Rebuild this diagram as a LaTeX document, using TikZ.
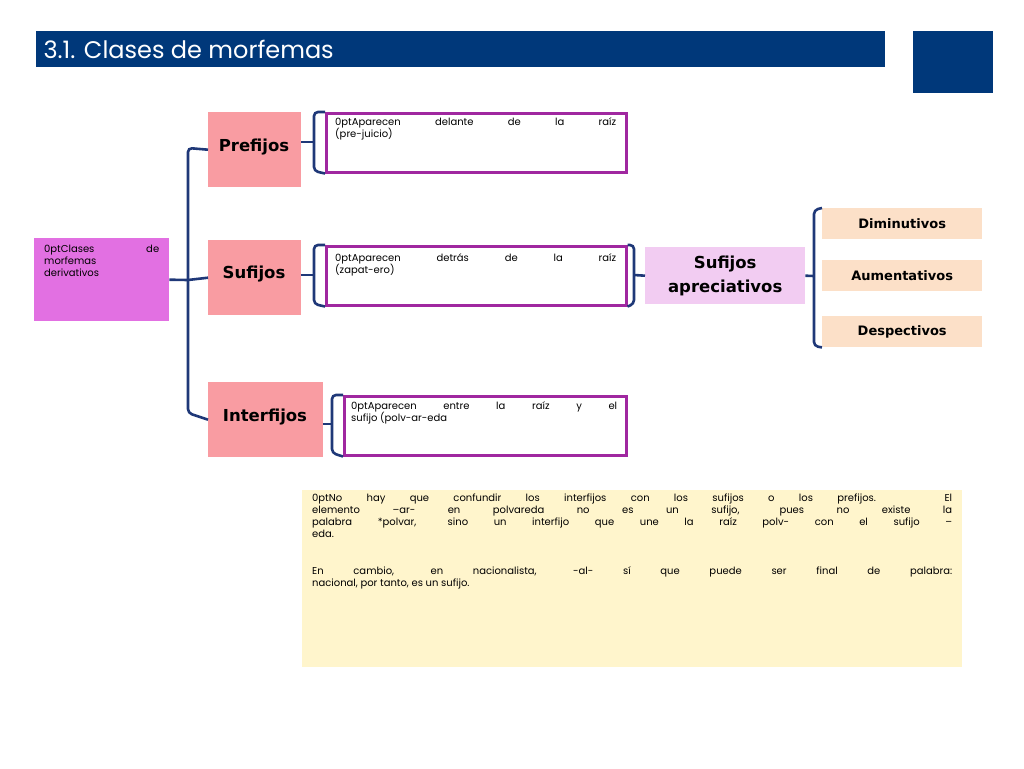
\documentclass[tikz,border=0pt]{standalone}
\usepackage{fontspec}
\setmainfont{Poppins}
\newfontfamily\labelfont{DejaVu Sans}
\usetikzlibrary{positioning}
\definecolor{navy}{RGB}{0,56,122}
\definecolor{bracecol}{RGB}{31,56,120}
\definecolor{rootpink}{RGB}{226,112,226}
\definecolor{salmon}{RGB}{249,156,162}
\definecolor{lilac}{RGB}{242,204,242}
\definecolor{peach}{RGB}{252,224,200}
\definecolor{cream}{RGB}{255,245,204}
\definecolor{purp}{RGB}{160,40,160}
\begin{document}
\begin{tikzpicture}[x=1pt,y=-1pt,
typebox/.style={fill=salmon, minimum height=75pt, anchor=north west, inner sep=0pt},
descbox/.style={draw=purp, line width=2.5pt, anchor=north west, minimum height=59pt, inner sep=0pt},
kindbox/.style={fill=peach, minimum width=160pt, minimum height=31pt, anchor=north west, inner sep=0pt, font=\labelfont\bfseries\fontsize{13}{15}\selectfont},
desctext/.style={anchor=north west, align=justify, inner sep=0pt, font=\hyphenpenalty=10000\fontsize{18}{25}\selectfont},
label/.style={font=\labelfont\bfseries\fontsize{16.5}{19}\selectfont},
brace/.style={draw=bracecol, line width=2.6pt, rounded corners=4pt}]
\useasboundingbox (0,0) rectangle (1024,768);
% Title
\node[fill=navy, minimum width=849pt, minimum height=36pt, anchor=north west, inner sep=0pt] (title) at (36,31) {};
\node[text=white, anchor=west, font=\fontsize{24}{26}\selectfont] (titletext) at (40,49) {3.1. Clases de morfemas};
\node[fill=navy, minimum width=80pt, minimum height=62pt, anchor=north west, inner sep=0pt] (corner) at (913,31) {};
% Nodes
\node[fill=rootpink, minimum width=135pt, minimum height=83pt, anchor=north west, inner sep=0pt] (root) at (34,238) {};
\node[desctext, text width=115pt] (roottext) at (44,245) {Clases de\linebreak morfemas\\derivativos};
\node[typebox, minimum width=93pt] (pre) at (208,112) {};
\node[label] (pretext) at (254,147) {Prefijos};
\node[typebox, minimum width=93pt] (suf) at (208,240) {};
\node[label] (suftext) at (254,274) {Sufijos};
\node[typebox, minimum width=115pt] (inter) at (208,382) {};
\node[label] (intertext) at (265,417) {Interfijos};
\node[descbox, minimum width=300pt] (predesc) at (325,112) {};
\node[desctext, text width=281pt] at (335,117) {Aparecen delante de la raíz\linebreak (pre-juicio)};
\node[descbox, minimum width=300pt] (sufdesc) at (325,245) {};
\node[desctext, text width=281pt] at (335,253) {Aparecen detrás de la raíz\linebreak (zapat-ero)};
\node[descbox, minimum width=282pt] (interdesc) at (343,395) {};
\node[desctext, text width=266pt] at (351,401) {Aparecen entre la raíz y el\linebreak sufijo (polv-ar-eda};
\node[fill=lilac, minimum width=160pt, minimum height=57pt, anchor=north west, inner sep=0pt, align=center, font=\labelfont\bfseries\fontsize{16.5}{24}\selectfont] (aprec) at (645,247) {Sufijos\\apreciativos};
\node[kindbox] (dim) at (822,208) {Diminutivos};
\node[kindbox] (aum) at (822,260) {Aumentativos};
\node[kindbox] (desp) at (822,316) {Despectivos};
\node[fill=cream, minimum width=660pt, minimum height=177pt, anchor=north west, inner sep=0pt] (note) at (302,490) {};
\node[desctext, text width=640pt] (notetext) at (312,494) {No hay que confundir los interfijos con los sufijos o los prefijos. El\linebreak elemento –ar- en polvareda no es un sufijo, pues no existe la\linebreak palabra *polvar, sino un interfijo que une la raíz polv- con el sufijo –\linebreak eda.\par\vspace{25pt}En cambio, en nacionalista, -al- sí que puede ser final de palabra:\linebreak nacional, por tanto, es un sufijo.};
% Brackets
\draw[brace] (pre.west) -- (188,148) -- (188,413) -- (inter.west);
\draw[brace] (suf.west) -- (188,280);
\draw[brace] (root.east) -- (188,280);
\draw[brace] (predesc.north west) -- (314,112) -- (314,171) -- (predesc.south west);
\draw[brace] (pre.east |- 0,142) -- (314,142);
\draw[brace] (sufdesc.north west) -- (314,245) -- (314,304) -- (sufdesc.south west);
\draw[brace] (suf.east |- 0,275) -- (314,275);
\draw[brace] (sufdesc.north east) -- (634,245) -- (634,304) -- (sufdesc.south east);
\draw[brace] (634,275) -- (aprec.west);
\draw[brace] (interdesc.north west) -- (332,395) -- (332,453) -- (interdesc.south west);
\draw[brace] (inter.east |- 0,424) -- (332,424);
\draw[brace] (dim.north west) -- (814,210) -- (814,346) -- (desp.south west);
\draw[brace] (aprec.east) -- (814,276);
\end{tikzpicture}
\end{document}
